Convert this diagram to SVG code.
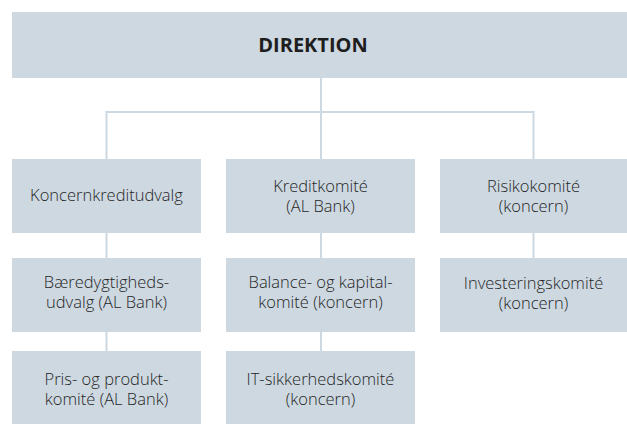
<svg xmlns="http://www.w3.org/2000/svg" width="627" height="424" viewBox="0 0 627 424">
<style>
.box{fill:#cdd8e1}
.t{font-family:"Open Sans","Noto Sans",sans-serif;font-size:16.5px;font-weight:300;fill:#262626;text-anchor:middle}
.h{font-family:"Open Sans","Noto Sans",sans-serif;font-size:20px;font-weight:bold;fill:#1e1e1e;text-anchor:middle}
.c{stroke:#cdd8e1;stroke-width:2;fill:none}
</style>
<rect width="627" height="424" fill="#ffffff"/>
<g id="connectors">
<path class="c" d="M321 78V112M106.5 112H533.5M106.5 111V159M321 112V159M533.5 111V159"/>
<path class="c" d="M106.5 233V258M106.5 332V351M321 233V258M321 332V351M533.5 233V258"/>
</g>
<g id="direktion"><rect class="box" x="12" y="12" width="615" height="66"/><text class="h" x="313" y="52">DIREKTION</text></g>
<g id="koncernkreditudvalg"><rect class="box" x="12" y="159" width="189" height="74"/><text class="t" x="106.5" y="201">Koncernkreditudvalg</text></g>
<g id="kreditkomite"><rect class="box" x="226" y="159" width="189" height="74"/><text class="t" x="320.5" y="192">Kreditkomité</text><text class="t" x="320.5" y="212">(AL Bank)</text></g>
<g id="risikokomite"><rect class="box" x="440" y="159" width="187" height="74"/><text class="t" x="533.5" y="192">Risikokomité</text><text class="t" x="533.5" y="212">(koncern)</text></g>
<g id="baeredygtighedsudvalg"><rect class="box" x="12" y="258" width="189" height="74"/><text class="t" x="106.5" y="288">Bæredygtigheds-</text><text class="t" x="106.5" y="308">udvalg (AL Bank)</text></g>
<g id="balancekomite"><rect class="box" x="226" y="258" width="189" height="74"/><text class="t" x="320.5" y="288">Balance- og kapital-</text><text class="t" x="320.5" y="308">komité (koncern)</text></g>
<g id="investeringskomite"><rect class="box" x="440" y="258" width="187" height="74"/><text class="t" x="533.5" y="289">Investeringskomité</text><text class="t" x="533.5" y="309">(koncern)</text></g>
<g id="prisogproduktkomite"><rect class="box" x="12" y="351" width="189" height="73"/><text class="t" x="106.5" y="385">Pris- og produkt-</text><text class="t" x="106.5" y="405">komité (AL Bank)</text></g>
<g id="itsikkerhedskomite"><rect class="box" x="226" y="351" width="189" height="73"/><text class="t" x="320.5" y="385">IT-sikkerhedskomité</text><text class="t" x="320.5" y="405">(koncern)</text></g>
</svg>
